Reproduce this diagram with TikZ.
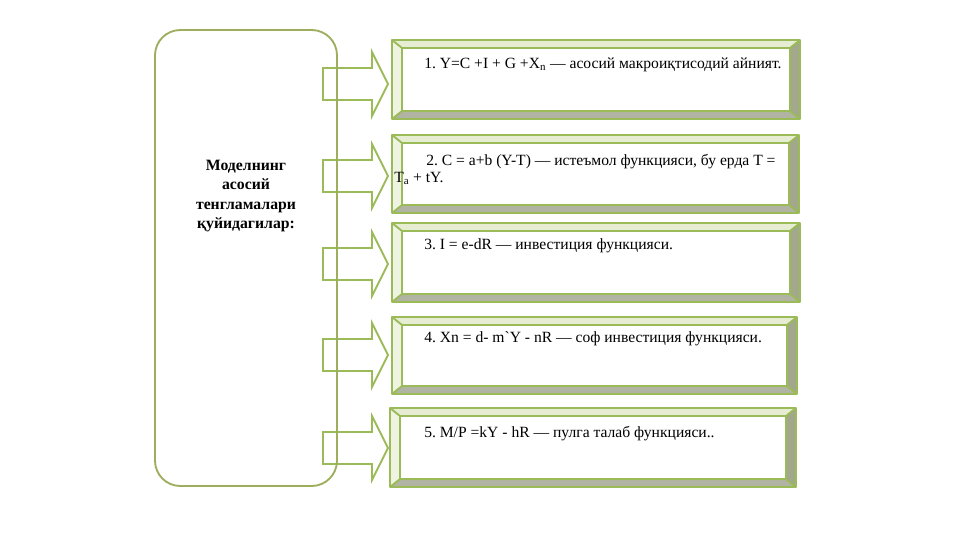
\documentclass[tikz,border=0pt]{standalone}
\usepackage{fontspec}
\setmainfont{Liberation Serif}[Ligatures=TeXOff]
\usetikzlibrary{calc}
\definecolor{frame}{HTML}{9BBB59}
\definecolor{leftframe}{HTML}{9DAF5E}
\definecolor{bevlight}{HTML}{E6EDD3}
\definecolor{bevleft}{HTML}{EEF3E2}
\definecolor{bevright}{HTML}{A3A78C}
\definecolor{bevbottom}{HTML}{B1B3A3}
\tikzset{
  edge/.style={draw=frame,line width=1.4pt,line join=round},
  blockarrow/.style={draw=frame,fill=white,line width=1.4pt,line join=miter},
  boxtext/.style={font=\frenchspacing\fontsize{11.7}{13}\selectfont,inner sep=0pt,anchor=base west},
  lefttext/.style={font=\bfseries\fontsize{11.8}{14.5}\selectfont,align=center,inner sep=0pt}
}
% bevel box: name, x1, y1, x2, y2
\newcommand\bevelbox[5]{%
  \coordinate (#1-a) at (#2,#3);
  \coordinate (#1-c) at (#4,#5);
  \coordinate (#1-b) at (#4,#3);
  \coordinate (#1-d) at (#2,#5);
  \coordinate (#1-ia) at ($(#1-a)+(10,8)$);
  \coordinate (#1-ib) at ($(#1-b)+(-10,8)$);
  \coordinate (#1-ic) at ($(#1-c)+(-10,-8)$);
  \coordinate (#1-id) at ($(#1-d)+(10,-8)$);
  \fill[bevlight] (#1-a) -- (#1-b) -- (#1-ib) -- (#1-ia) -- cycle;
  \fill[bevleft] (#1-a) -- (#1-ia) -- (#1-id) -- (#1-d) -- cycle;
  \fill[bevright] (#1-b) -- (#1-c) -- (#1-ic) -- (#1-ib) -- cycle;
  \fill[bevbottom] (#1-d) -- (#1-id) -- (#1-ic) -- (#1-c) -- cycle;
  \draw[edge] (#1-a) rectangle (#1-c);
  \draw[edge] (#1-ia) rectangle (#1-ic);
  \draw[edge] (#1-a) -- (#1-ia) (#1-b) -- (#1-ib) (#1-c) -- (#1-ic) (#1-d) -- (#1-id);
}
% block arrow: centre y
\newcommand\blockarr[1]{%
  \draw[blockarrow] (323,#1-16) -- (372,#1-16) -- (372,#1-32) -- (388,#1)
    -- (372,#1+32) -- (372,#1+16) -- (323,#1+16) -- cycle;
}
\begin{document}
\begin{tikzpicture}[x=0.75pt,y=-0.75pt]
\useasboundingbox[fill=white] (0,0) rectangle (961,540);
% arrows
\blockarr{84}
\blockarr{176}
\blockarr{264}
\blockarr{355}
\blockarr{448}
% left rounded box
\draw[edge,draw=leftframe,rounded corners=19pt] (155,30) rectangle (337,486);
\node[lefttext] (title) at (246,196) {Моделнинг\\асосий\\тенгламалари\\қуйидагилар:};
% right boxes
\bevelbox{b1}{392}{40}{800}{119}
\bevelbox{b2}{392}{135}{799}{213}
\bevelbox{b3}{392}{223}{800}{302}
\bevelbox{b4}{392}{317}{797}{394}
\bevelbox{b5}{390}{408}{796}{487}
\node[boxtext] (t1) at (424,68) {1. Y=C +I + G +X\textsubscript{n} — асосий макроиқтисодий айният.};
\node[boxtext] (t2a) at (426,165) {2. C = a+b (Y-T) — истеъмол функцияси, бу ерда T =};
\node[boxtext] (t2b) at (394,182) {T\textsubscript{a} + tY.};
\node[boxtext] (t3) at (424,249) {3. I = e-dR — инвестиция функцияси.};
\node[boxtext] (t4) at (424,342) {4. Xn = d- m`Y - nR — соф инвестиция функцияси.};
\node[boxtext] (t5) at (424,437) {5. M/P =kY - hR — пулга талаб функцияси..};
\end{tikzpicture}
\end{document}
